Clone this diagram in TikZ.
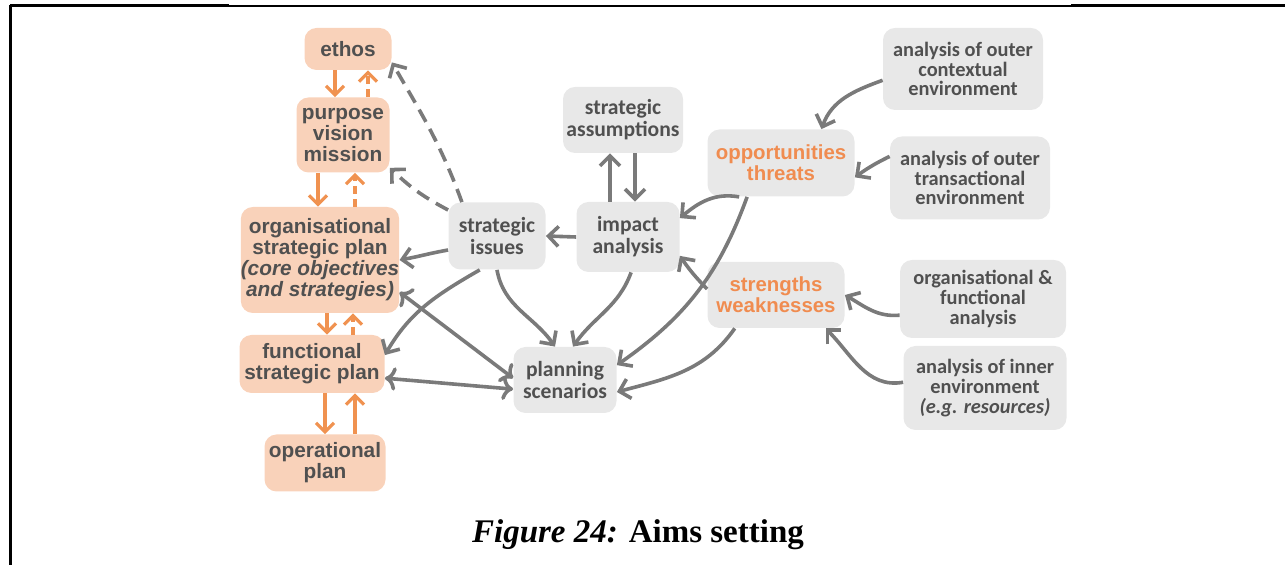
\documentclass[tikz,border=0pt]{standalone}
\usepackage{fontspec}
\setmainfont{Liberation Serif}
\newfontfamily\boxfont{Liberation Sans}
\newfontfamily\narrowfont{Carlito}
\usetikzlibrary{arrows.meta}
\definecolor{peach}{RGB}{249,210,186}
\definecolor{lightgrey}{RGB}{232,232,232}
\definecolor{arrowgrey}{RGB}{122,122,122}
\definecolor{arroworange}{RGB}{240,146,80}
\definecolor{textgrey}{RGB}{80,80,80}
\definecolor{textorange}{RGB}{240,140,80}
\tikzset{
  box/.style={rounded corners=6pt, inner sep=0pt, align=center, text=textgrey},
  peachbox/.style={box, fill=peach, font=\boxfont\fontsize{10.4}{10.5}\selectfont\bfseries},
  greybox/.style={box, fill=lightgrey, font=\narrowfont\fontsize{10.8}{11}\selectfont\bfseries},
  outerbox/.style={box, fill=lightgrey, font=\narrowfont\fontsize{10.2}{9.8}\selectfont\bfseries},
  swotbox/.style={box, fill=lightgrey, text=textorange,
    font=\boxfont\fontsize{10.2}{10.5}\selectfont\bfseries},
  garrow/.style={draw=arrowgrey, line width=1.8pt,
    -{Straight Barb[length=5pt,width=10pt]}},
  oarrow/.style={draw=arroworange, line width=1.6pt,
    -{Straight Barb[length=4.5pt,width=9pt]}},
  gdash/.style={garrow, dash pattern=on 7pt off 4pt},
  odash/.style={oarrow, dash pattern=on 4pt off 2.5pt}
}
\begin{document}
\begin{tikzpicture}[x=0.5pt,y=-0.5pt]
  \useasboundingbox (0,0) rectangle (1285,565);
  % frame
  \draw[line width=1.5pt] (10,5) -- (10,565);
  \draw[line width=1.5pt] (10,6) -- (229,6);
  \draw[line width=0.6pt] (229,6) -- (1071,6);
  \draw[line width=1.5pt] (1071,6) -- (1285,6);

  % planning levels
  \node[peachbox, minimum width=43.5pt, minimum height=21pt] (eth) at (348,49) {ethos};
  \node[peachbox, minimum width=46.5pt, minimum height=37.5pt] (pvm) at (343,135) {purpose\\vision\\mission};
  \node[peachbox, minimum width=75pt, minimum height=53pt] (osp) at (320,260)
    {organisational\\strategic plan\\\itshape(core objectives\\\itshape and strategies)};
  \node[peachbox, minimum width=72.5pt, minimum height=29pt] (fsp) at (312,364) {functional\\strategic plan};
  \node[peachbox, minimum width=60.5pt, minimum height=28.5pt] (opl) at (325,463) {operational\\plan};

  % analysis
  \node[greybox, minimum width=60pt, minimum height=33pt] (ass) at (623,120) {strategic\\assumptions};
  \node[swotbox, minimum width=73.5pt, minimum height=33.5pt] (opp) at (781,163) {opportunities\\threats};
  \node[greybox, minimum width=48.5pt, minimum height=33.5pt] (iss) at (497,236) {strategic\\issues};
  \node[greybox, minimum width=51.5pt, minimum height=35pt] (imp) at (628,237) {impact\\analysis};
  \node[swotbox, minimum width=68.5pt, minimum height=33pt] (sw) at (776,295) {strengths\\weaknesses};
  \node[greybox, minimum width=51.5pt, minimum height=33pt] (scen) at (565,380) {planning\\scenarios};
  \node[outerbox, minimum width=80pt, minimum height=41pt] (ctx) at (963,69) {analysis of outer\\contextual\\environment};
  \node[outerbox, minimum width=80pt, minimum height=41.5pt] (trs) at (970,178) {analysis of outer\\transactional\\environment};
  \node[outerbox, minimum width=83pt, minimum height=39pt] (ofa) at (983,299) {organisational \&\\functional\\analysis};
  \node[outerbox, minimum width=81.5pt, minimum height=42pt] (inn) at (985,388) {analysis of inner\\environment\\\itshape(e.g. resources)};

  \node[font=\fontsize{16.5}{18}\selectfont] (cap) at (638,535) {\textbf{\textit{Figure 24:}} \textbf{Aims setting}};

  % orange links between levels
  \draw[oarrow] ([xshift=-6.5pt]eth.south) -- ([xshift=-6.5pt]eth.south |- pvm.north);
  \draw[odash] ([xshift=12.5pt]pvm.north) -- ([xshift=12.5pt]pvm.north |- eth.south);
  \draw[oarrow] ([xshift=-12.5pt]pvm.south) -- ([xshift=-12.5pt]pvm.south |- osp.north);
  \draw[odash] ([xshift=6pt]pvm.south |- osp.north) -- ([xshift=6pt]pvm.south);
  \draw[oarrow] ([xshift=3.5pt]osp.south) -- ([xshift=3.5pt]osp.south |- fsp.north);
  \draw[odash] ([xshift=16.5pt]osp.south |- fsp.north) -- ([xshift=16.5pt]osp.south);
  \draw[oarrow] ([xshift=6.5pt]fsp.south) -- ([xshift=6.5pt]fsp.south |- opl.north);
  \draw[oarrow] ([xshift=21.5pt]fsp.south |- opl.north) -- ([xshift=21.5pt]fsp.south);

  % grey links
  \draw[garrow] (ctx.188) to[out=200,in=70] (opp.40);
  \draw[garrow] (trs.165) to[bend right=5] (opp.349);
  \draw[garrow] (ofa.191) to[out=185,in=-30] (sw.east);
  \draw[garrow] (inn.176) to[out=190,in=-45] (sw.326);
  \draw[garrow] (opp.219) to[out=170,in=40] (imp.20);
  \draw[garrow] (opp.225) to[out=250,in=35] (scen.16);
  \draw[garrow] (sw.175) to[bend left=5] (imp.340);
  \draw[garrow] (sw.219) to[out=235,in=15] (scen.347);
  \draw[garrow] ([xshift=-9pt]imp.north) -- ([xshift=-9pt]imp.north |- ass.south);
  \draw[garrow] ([xshift=6pt]ass.south) -- ([xshift=6pt]ass.south |- imp.north);
  \draw[garrow] (imp.west) -- (iss.east);
  \draw[garrow] (imp.-85) to[out=250,in=55] ([xshift=4pt]scen.north);
  \draw[garrow] (iss.south) to[out=-80,in=125] ([xshift=-5pt]scen.north);
  \draw[garrow] (iss.196) to[out=190,in=10] (osp.east);
  \draw[garrow] (iss.243) to[out=210,in=60] (fsp.7);
  \draw[garrow, <->] (osp.-22) -- (scen.178);
  \draw[garrow, <->] (fsp.-11) -- (scen.190);
  \draw[gdash] (iss.136) to[out=110,in=-60] (eth.-17);
  \draw[gdash] (iss.152) to[bend left=8] (pvm.325);
\end{tikzpicture}
\end{document}
